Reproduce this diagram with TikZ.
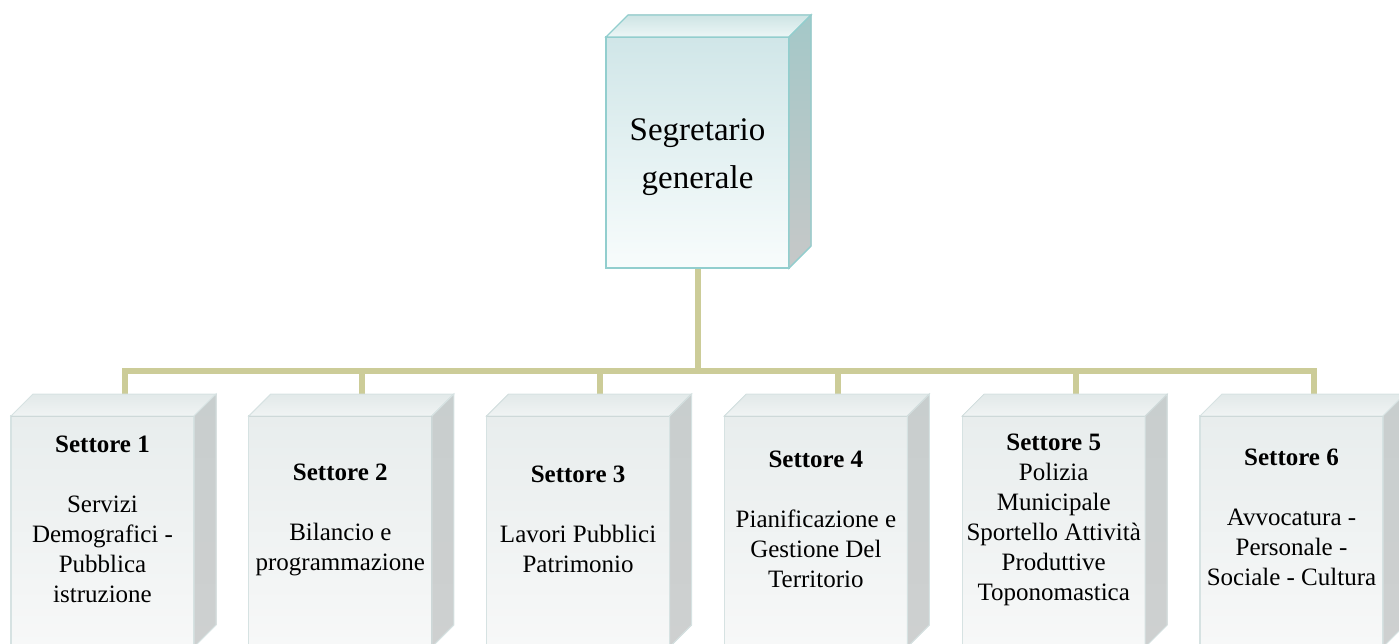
\documentclass[tikz,border=0pt]{standalone}
\usepackage{fontspec}
\setmainfont{Liberation Serif}
\usetikzlibrary{backgrounds}
\definecolor{busc}{RGB}{204,204,152}
\definecolor{tealedge}{RGB}{146,206,206}
\definecolor{grayedge}{RGB}{214,226,226}
\tikzset{
  topfront/.style={rectangle, inner sep=0pt, outer sep=0pt, minimum width=183pt, minimum height=231pt,
    draw=tealedge, line width=1.6pt, top color={rgb,255:red,208;green,230;blue,232}, bottom color={rgb,255:red,248;green,252;blue,252}},
  subfront/.style={rectangle, inner sep=0pt, outer sep=0pt, minimum width=183pt, minimum height=231pt,
    draw=grayedge, line width=1.2pt, top color={rgb,255:red,232;green,237;blue,237}, bottom color={rgb,255:red,247;green,248;blue,248}},
  toptext/.style={align=center, font=\fontsize{33}{48}\selectfont, inner sep=0pt},
  subtext/.style={align=center, font=\fontsize{25}{30}\selectfont, inner sep=0pt},
  busline/.style={draw=busc, line width=6pt, line join=miter},
}
\begin{document}
\begin{tikzpicture}[x=1pt,y=-1pt]
\useasboundingbox (0,0) rectangle (1399,644);
\clip (0,0) rectangle (1399,644);
% top box
\node[topfront] (sg) at (697.5,152.5) {};
\fill[draw=tealedge, line width=1.4pt, top color={rgb,255:red,206;green,228;blue,228}, bottom color={rgb,255:red,236;green,246;blue,246}]
  (sg.north west) -- ([shift={(22,-22)}]sg.north west) -- ([shift={(22,-22)}]sg.north east) -- (sg.north east) -- cycle;
\fill[draw=tealedge, line width=1.4pt, top color={rgb,255:red,164;green,200;blue,200}, bottom color={rgb,255:red,198;green,200;blue,200}]
  (sg.north east) -- ([shift={(22,-22)}]sg.north east) -- ([shift={(22,-22)}]sg.south east) -- (sg.south east) -- cycle;
\node[toptext] (sgt) at ([yshift=-5pt]sg.center) {Segretario\\generale};
% sub boxes
\foreach \i in {1,...,6}{
  \pgfmathsetmacro{\cx}{102.5+237.8*(\i-1)}
  \node[subfront] (s\i) at (\cx,531.5) {};
  \fill[draw=grayedge, line width=1pt, top color={rgb,255:red,226;green,233;blue,233}, bottom color={rgb,255:red,240;green,244;blue,244}]
    (s\i.north west) -- ([shift={(22,-22)}]s\i.north west) -- ([shift={(22,-22)}]s\i.north east) -- (s\i.north east) -- cycle;
  \fill[draw=grayedge, line width=1pt, top color={rgb,255:red,200;green,206;blue,206}, bottom color={rgb,255:red,206;green,208;blue,208}]
    (s\i.north east) -- ([shift={(22,-22)}]s\i.north east) -- ([shift={(22,-22)}]s\i.south east) -- (s\i.south east) -- cycle;
  \coordinate (c\i) at ([shift={(22,-20)}]s\i.north);
}
\node[subtext] (t1) at ([yshift=12pt]s1.center) {\textbf{Settore 1}\\[30pt]Servizi\\Demografici -\\Pubblica\\istruzione};
\node[subtext] (t2) at ([yshift=12pt]s2.center) {\textbf{Settore 2}\\[30pt]Bilancio e\\programmazione};
\node[subtext] (t3) at ([yshift=12pt]s3.center) {\textbf{Settore 3}\\[30pt]Lavori Pubblici\\Patrimonio};
\node[subtext] (t4) at ([yshift=12pt]s4.center) {\textbf{Settore 4}\\[30pt]Pianificazione e\\Gestione Del\\Territorio};
\node[subtext] (t5) at ([yshift=12pt]s5.center) {\textbf{Settore 5}\\Polizia\\Municipale\\Sportello Attività\\Produttive\\Toponomastica};
\node[subtext] (t6) at ([yshift=14pt]s6.center) {\textbf{Settore 6}\\[30pt]Avvocatura -\\Personale -\\Sociale - Cultura};
% connectors
\begin{pgfonlayer}{background}
  \coordinate (j) at (697.5,371);
  \draw[busline] (sg.south) -- (j);
  \draw[busline] (c1) -- (c1 |- j) -- (c6 |- j) -- (c6);
  \foreach \i in {2,...,5}{ \draw[busline] (c\i |- j) -- (c\i); }
\end{pgfonlayer}
\end{tikzpicture}
\end{document}
